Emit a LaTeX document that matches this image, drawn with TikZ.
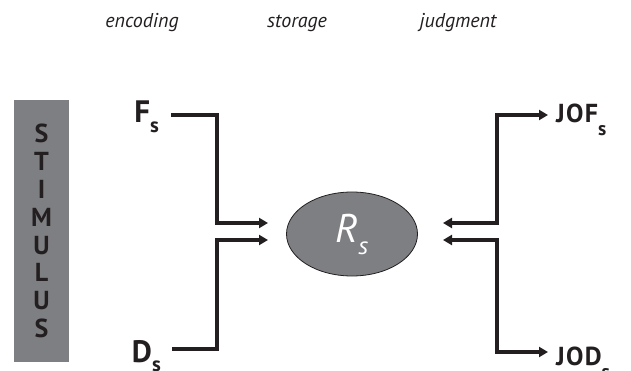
\documentclass[tikz,border=0pt]{standalone}
\usepackage{fontspec}
\setmainfont{PT Sans}
\usetikzlibrary{arrows.meta, positioning, shapes.geometric}
\definecolor{boxgray}{HTML}{7E7F83}
\definecolor{ink}{HTML}{231F20}
% drop, scale, text
\newcommand{\lowsub}[3]{\raisebox{-#1}{\scalebox{#2}{#3}}}
\tikzset{
  >={Triangle[length=9pt,width=10pt]},
  stage/.style={font=\itshape\fontsize{20}{22}\selectfont, text=ink, inner sep=0pt},
  inlbl/.style={font=\bfseries\fontsize{31}{33}\selectfont, text=ink, inner sep=0pt},
  outlbl/.style={font=\bfseries\fontsize{26}{28}\selectfont\addfontfeatures{LetterSpace=5}, text=ink, inner sep=0pt},
  flow/.style={draw=ink, line width=4pt, line join=miter, ->},
}
\begin{document}
\begin{tikzpicture}[x=1pt, y=-1pt]
\useasboundingbox (0,0) rectangle (631,371);
% stage titles
\node[stage, anchor=base] (enc) at (142,28) {encoding};
\node[stage, anchor=base] (sto) at (297,28) {storage};
\node[stage, anchor=base] (jud) at (458,28) {judgment};
% stimulus bar
\node[fill=boxgray, minimum width=55pt, minimum height=262pt, inner sep=0pt, align=center, text=ink, font=\bfseries\fontsize{26}{27.9}\selectfont] (stim) at (41.5,231) {S\\T\\I\\M\\U\\L\\U\\S};
% inputs and outputs
\node[inlbl, anchor=base east] (fs) at (159,123) {F\lowsub{.3em}{.67}{s}};
\node[inlbl, anchor=base east] (ds) at (161,362) {D\lowsub{.3em}{.67}{s}};
\node[outlbl, anchor=base west] (jof) at (556,123) {JOF\lowsub{.5em}{.75}{s}};
\node[outlbl, anchor=base west] (jod) at (556,365) {JOD\lowsub{.5em}{.75}{s}};
% memory trace
\node[draw=ink, fill=boxgray, ellipse, line width=0.8pt, minimum width=131pt, minimum height=84pt, text=white, font=\itshape\fontsize{40}{42}\selectfont] (rs) at (352,234) {R\lowsub{.3em}{.62}{s}};
\coordinate (in1) at (268,223);
\coordinate (in2) at (268,240);
\coordinate (back1) at (443,223);
\coordinate (back2) at (443,240);
\draw[flow] ([shift={(12,-8)}]fs.base east) -| ([xshift=-51pt]in1) -- (in1);
\draw[flow] ([shift={(11,-13)}]ds.base east) -| ([xshift=-51pt]in2) -- (in2);
\draw[flow, <->] (back1) -- ++(54,0) |- ([shift={(-8,-8)}]jof.base west);
\draw[flow, <->] (back2) -- ++(54,0) |- ([shift={(-8,-13)}]jod.base west);
\end{tikzpicture}
\end{document}
